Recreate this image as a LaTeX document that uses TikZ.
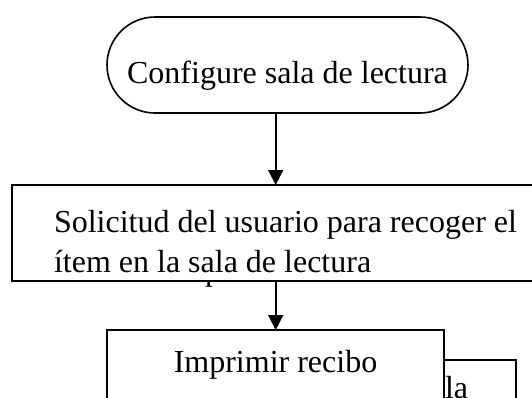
\documentclass[tikz,border=0pt]{standalone}
\usepackage{fontspec}
\setmainfont{Liberation Serif}
\usetikzlibrary{arrows.meta}
\begin{document}
\begin{tikzpicture}[x=1pt,y=1pt,
  every node/.style={inner sep=0pt, outer sep=0pt},
  shapebox/.style={draw=black, line width=1.6pt, fill=white, rectangle},
  termbox/.style={draw=black, line width=1.6pt, fill=white, rounded corners=48pt},
  txt/.style={font=\fontsize{32}{40.5}\selectfont, text=black},
  arr/.style={draw=black, line width=1.6pt, -{Triangle[width=15pt,length=15pt]}}]
\clip (0,0) rectangle (532,-397);
\fill[white] (0,0) rectangle (532,-397);
% terminal
\node[termbox, minimum width=361pt, minimum height=96pt, anchor=north west] (term) at (107,-17) {};
\node[txt, anchor=base] (termt) at (287.5,-83) {Configure sala de lectura};
% hidden text fragment behind the request box
\node[txt, anchor=base west] (hidp) at (205,-280) {p};
% request box
\node[shapebox, minimum width=540pt, minimum height=96pt, anchor=north west] (req) at (12,-185) {};
\node[txt, anchor=base west] (reqa) at (54,-232) {Solicitud del usuario para recoger el};
\node[txt, anchor=base west] (reqb) at (54,-272) {ítem en la sala de lectura};
% back box
\node[shapebox, minimum width=216pt, minimum height=80pt, anchor=north east] (back) at (516,-360) {};
\node[txt, anchor=base west] (backt) at (445,-398.5) {la};
% print box
\node[shapebox, minimum width=337pt, minimum height=100pt, anchor=north west] (print) at (107,-330) {};
\node[txt, anchor=base] (printt) at (275.5,-372.5) {Imprimir recibo};
% connectors
\coordinate (ax) at (275.7,0);
\draw[arr] (term.south -| ax) -- (req.north -| ax);
\draw[arr] (req.south -| ax) -- (print.north -| ax);
\end{tikzpicture}
\end{document}
